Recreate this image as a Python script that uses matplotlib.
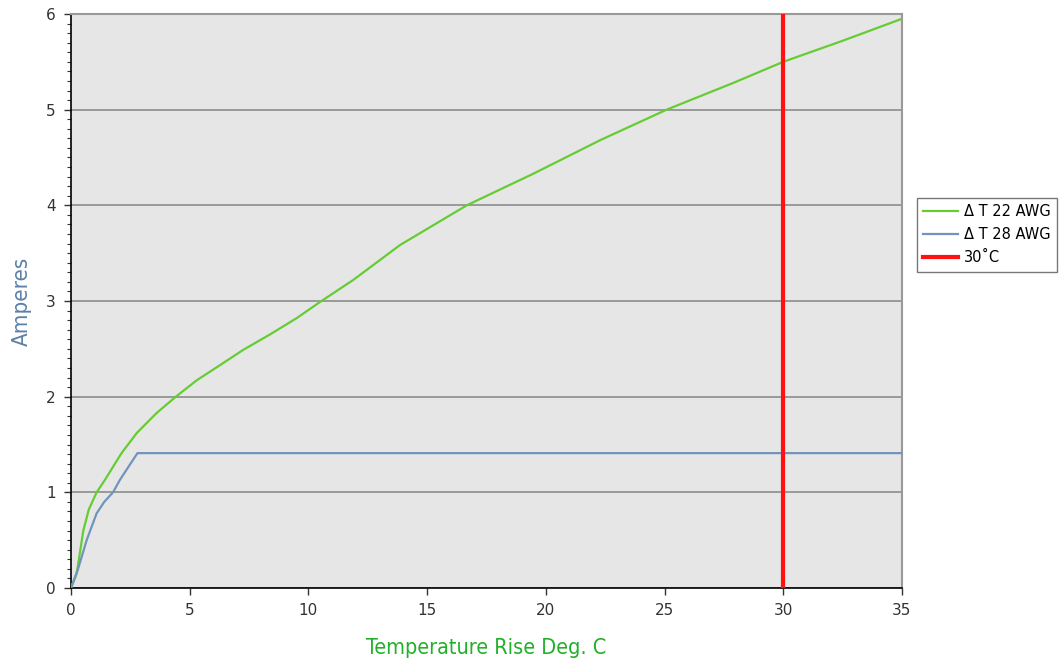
import numpy as np
import matplotlib
matplotlib.use("Agg")
import matplotlib.pyplot as plt
from matplotlib.ticker import MultipleLocator

# values
temp_22 = [0, 0.24, 0.52, 0.75, 1.08, 1.43, 2.13, 2.77, 3.61, 4.42, 5.29, 6.28, 7.26, 8.38,
           9.5, 10.49, 11.89, 13.86, 16.67, 19.47, 22.28, 25.09, 27.9, 30.0, 32.5, 35.0]
amps_22 = [0, 0.15, 0.6, 0.82, 1.0, 1.13, 1.41, 1.62, 1.83, 2.0, 2.17, 2.33, 2.49, 2.65,
           2.82, 2.99, 3.22, 3.585, 4.0, 4.33, 4.68, 5.0, 5.28, 5.5, 5.72, 5.95]

temp_28 = [0, 0.3, 0.66, 1.08, 1.4, 1.77, 2.06, 2.8, 35.0]
amps_28 = [0, 0.2, 0.5, 0.78, 0.9, 1.0, 1.13, 1.41, 1.41]

limit_temp = 30

fig = plt.figure(figsize=(10.61, 6.66), dpi=100)
ax = fig.add_axes([0.0669, 0.1171, 0.7832, 0.8619])
ax.set_facecolor("#e6e6e6")

ax.plot(temp_22, amps_22, color="#66cc33", lw=1.6, label="\u0394 T 22 AWG", zorder=3)
ax.plot(temp_28, amps_28, color="#7094bb", lw=1.6, label="\u0394 T 28 AWG", zorder=3)
ax.axvline(limit_temp, color="#ff1111", lw=3, label="30\u02daC", zorder=4)

ax.set_xlim(0, 35)
ax.set_ylim(0, 6)
ax.xaxis.set_major_locator(MultipleLocator(5))
ax.yaxis.set_major_locator(MultipleLocator(1))
ax.yaxis.set_minor_locator(MultipleLocator(0.1))
ax.grid(axis="y", which="major", color="#8c8c8c", lw=1.2)
ax.set_axisbelow(True)

for s in ["top", "right"]:
    ax.spines[s].set_color("#999999")
    ax.spines[s].set_linewidth(1.5)
for s in ["left", "bottom"]:
    ax.spines[s].set_color("black")
    ax.spines[s].set_linewidth(1.2)

ax.tick_params(axis="both", which="major", length=5, width=1, labelsize=11, colors="#333333", pad=6)
ax.tick_params(axis="y", which="minor", length=3, width=0.8, color="#333333")

ax.set_xlabel("Temperature Rise Deg. C", fontsize=15.5, color="#22b02a",
              family="DejaVu Sans", fontstretch="condensed", labelpad=14)
ax.set_ylabel("Amperes", fontsize=16, color="#5b80a8",
              family="DejaVu Sans", fontstretch="condensed", labelpad=10)

leg = ax.legend(loc="upper left", bbox_to_anchor=(0.864, 0.703), bbox_transform=fig.transFigure,
                frameon=True, fancybox=False, fontsize=10.5, handlelength=2.4,
                borderpad=0.45, labelspacing=0.55, handletextpad=0.4, borderaxespad=0)
leg.get_frame().set_edgecolor("#555555")
leg.get_frame().set_linewidth(1.0)

fig.savefig("out.png", dpi=100)
